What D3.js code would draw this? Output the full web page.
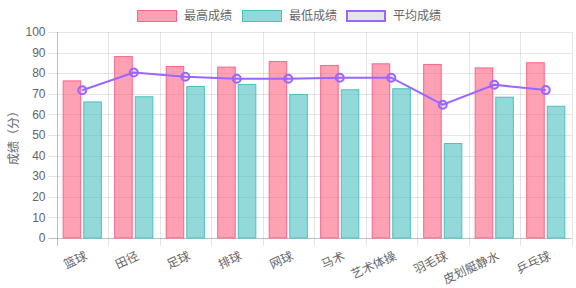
<!DOCTYPE html>
<html>
<head>
<meta charset="utf-8">
<script src="https://cdn.jsdelivr.net/npm/d3@7"></script>
<style>
  body { margin: 0; background: #fff; }
  svg text { font-family: "Liberation Sans", Arial, "Noto Sans CJK SC", sans-serif; fill: #666; }
</style>
</head>
<body>
<div id="chart"></div>
<script>
// sports and scores
let sports = ["篮球", "田径", "足球", "排球", "网球", "马术", "艺术体操", "羽毛球", "皮划艇静水", "乒乓球"];
let maxScores = [76.5, 88.3, 83.5, 83.2, 85.9, 84.0, 84.8, 84.5, 82.8, 85.3];
let minScores = [66.3, 68.8, 73.8, 74.8, 69.9, 72.2, 72.7, 46.1, 68.6, 64.2];
let avgScores = [71.7, 80.3, 78.3, 77.3, 77.3, 77.8, 77.8, 64.7, 74.4, 71.8];
let yTicks = [0, 10, 20, 30, 40, 50, 60, 70, 80, 90, 100];

let legendItems = [
    {name: "最高成绩", fill: "rgba(255,99,132,0.6)", stroke: "rgb(255,99,132)", sw: 1},
    {name: "最低成绩", fill: "rgba(75,192,192,0.6)", stroke: "rgb(75,192,192)", sw: 1},
    {name: "平均成绩", fill: "rgba(0,0,0,0.1)", stroke: "rgb(153,102,255)", sw: 2}
];

let width = 576, height = 288;
let plotLeft = 56.5, plotRight = 571.5, plotTop = 32, plotBottom = 238;

let svg = d3.select("#chart").append("svg")
    .attr("width", width)
    .attr("height", height);

let x = d3.scaleBand()
    .domain(sports)
    .range([plotLeft, plotRight]);

// group takes 80% of category, bars 90% of their slot
let inner = d3.scaleBand()
    .domain(["max", "min"])
    .range([0, x.bandwidth() * 0.8]);

let y = d3.scaleLinear()
    .domain([0, 100])
    .range([plotBottom, plotTop]);

// horizontal grid lines
svg.append("g").selectAll("line")
    .data(yTicks)
    .enter()
    .append("line")
    .attr("x1", plotLeft - 8)
    .attr("x2", plotRight)
    .attr("y1", d => Math.round(y(d)) + 0.5)
    .attr("y2", d => Math.round(y(d)) + 0.5)
    .attr("stroke", d => d == 0 ? "rgba(0,0,0,0.25)" : "rgba(0,0,0,0.1)");

// vertical grid lines at category edges
let edges = sports.map(s => x(s)).concat([plotRight]);
svg.append("g").selectAll("line")
    .data(edges)
    .enter()
    .append("line")
    .attr("x1", d => Math.round(d) + 0.5)
    .attr("x2", d => Math.round(d) + 0.5)
    .attr("y1", plotTop)
    .attr("y2", plotBottom + 8)
    .attr("stroke", (d, i) => i == 0 ? "rgba(0,0,0,0.25)" : "rgba(0,0,0,0.1)");

// y tick labels
svg.append("g").selectAll("text")
    .data(yTicks)
    .enter()
    .append("text")
    .attr("x", plotLeft - 11)
    .attr("y", d => y(d))
    .attr("dy", "0.35em")
    .attr("text-anchor", "end")
    .style("font-size", "12px")
    .text(d => d);

// y axis title
svg.append("text")
    .attr("transform", `translate(14,${(plotTop + plotBottom) / 2}) rotate(-90)`)
    .attr("text-anchor", "middle")
    .attr("dy", "0.35em")
    .style("font-size", "12px")
    .text("成绩（分）");

// x labels, rotated
svg.append("g").selectAll("text")
    .data(sports)
    .enter()
    .append("text")
    .attr("transform", d => `translate(${x(d) + x.bandwidth() / 2 + 4},${plotBottom + 17}) rotate(-25)`)
    .attr("text-anchor", "end")
    .attr("dy", "0.35em")
    .style("font-size", "12px")
    .text(d => d);

// bars
let groupOffset = x.bandwidth() * 0.1;
let barW = inner.bandwidth() * 0.9;
let barPad = inner.bandwidth() * 0.05;

function drawBars(values, key, item) {
    svg.append("g").selectAll("rect")
        .data(values)
        .enter()
        .append("rect")
        .attr("x", (d, i) => x(sports[i]) + groupOffset + inner(key) + barPad + 0.5)
        .attr("y", d => y(d) + 0.5)
        .attr("width", barW - 1)
        .attr("height", d => plotBottom - y(d) - 0.5)
        .attr("fill", item.fill)
        .attr("stroke", item.stroke)
        .attr("stroke-width", 1);
}
drawBars(maxScores, "max", legendItems[0]);
drawBars(minScores, "min", legendItems[1]);

// average line
let line = d3.line()
    .x((d, i) => x(sports[i]) + x.bandwidth() / 2)
    .y(d => y(d));

svg.append("path")
    .datum(avgScores)
    .attr("d", line)
    .attr("fill", "none")
    .attr("stroke", "rgb(153,102,255)")
    .attr("stroke-width", 2);

svg.append("g").selectAll("circle")
    .data(avgScores)
    .enter()
    .append("circle")
    .attr("cx", (d, i) => x(sports[i]) + x.bandwidth() / 2)
    .attr("cy", d => y(d))
    .attr("r", 4)
    .attr("fill", "rgba(153,102,255,0.2)")
    .attr("stroke", "rgb(153,102,255)")
    .attr("stroke-width", 2);

// legend
let legendX = [137, 242, 346];
let legend = svg.append("g");
legendItems.forEach((item, i) => {
    legend.append("rect")
        .attr("x", legendX[i] + item.sw / 2)
        .attr("y", 10 + item.sw / 2)
        .attr("width", 40 - item.sw)
        .attr("height", 12 - item.sw)
        .attr("fill", item.fill)
        .attr("stroke", item.stroke)
        .attr("stroke-width", item.sw);
    legend.append("text")
        .attr("x", legendX[i] + 47)
        .attr("y", 16)
        .attr("dy", "0.35em")
        .style("font-size", "12px")
        .text(item.name);
});
</script>
</body>
</html>
